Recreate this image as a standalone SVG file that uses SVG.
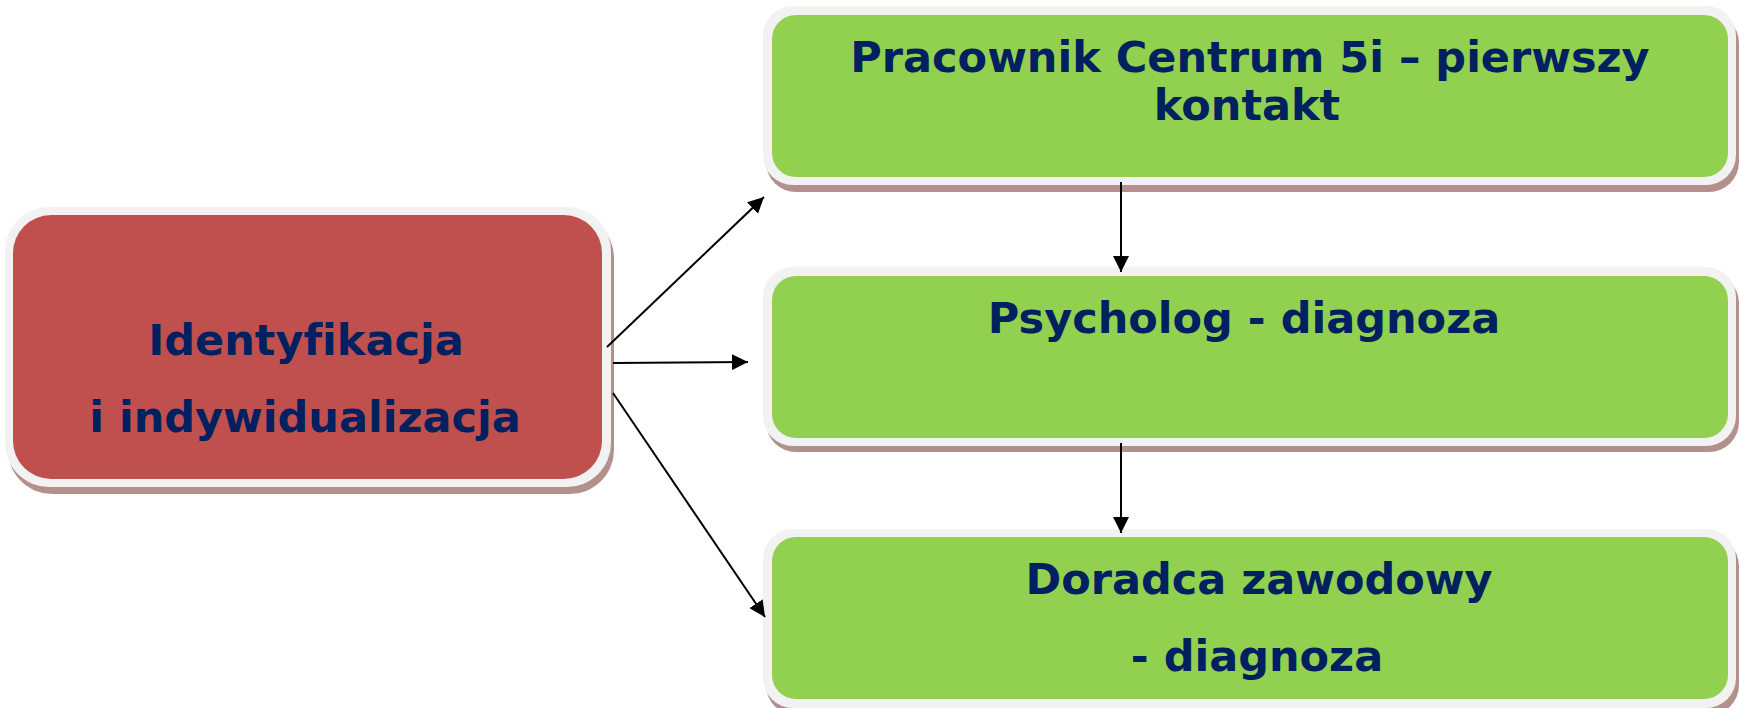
<svg xmlns="http://www.w3.org/2000/svg" width="1739" height="708" viewBox="0 0 1739 708">
<defs>
<style>
.shadow{fill:#b3908c}
.frame{fill:#f2f2f2}
.red{fill:#c0504d}
.green{fill:#92d050}
.t{font-family:"DejaVu Sans","Verdana",sans-serif;font-weight:bold;font-size:43px;fill:#002060;text-anchor:middle;font-variant-ligatures:none}
.c{stroke:#000;stroke-width:2;fill:none;marker-end:url(#ah)}
</style>
<marker id="ah" viewBox="0 0 16 16" refX="16" refY="8" markerWidth="16" markerHeight="16" markerUnits="userSpaceOnUse" orient="auto">
<path d="M0,0 L16,8 L0,16 z" fill="#000"/>
</marker>
</defs>
<rect width="1739" height="708" fill="#fff"/>
<g id="node-identyfikacja">
<rect class="shadow" x="8" y="214" width="606" height="280" rx="44"/>
<rect class="frame" x="5" y="207" width="606" height="280" rx="44"/>
<rect class="red" x="13" y="215" width="589" height="264" rx="38"/>
<text class="t" x="306" y="355">Identyfikacja</text>
<text class="t" x="305" y="432">i indywidualizacja</text>
</g>
<g id="node-pracownik">
<rect class="shadow" x="766" y="13" width="973" height="179" rx="30"/>
<rect class="frame" x="763" y="6" width="973" height="179" rx="30"/>
<rect class="green" x="772" y="15" width="956" height="162" rx="24"/>
<text class="t" x="1250" y="72">Pracownik Centrum 5i – pierwszy</text>
<text class="t" x="1247" y="120">kontakt</text>
</g>
<g id="node-psycholog">
<rect class="shadow" x="766" y="273" width="973" height="179" rx="30"/>
<rect class="frame" x="763" y="267" width="973" height="179" rx="30"/>
<rect class="green" x="772" y="276" width="956" height="162" rx="24"/>
<text class="t" x="1244" y="333">Psycholog - diagnoza</text>
</g>
<g id="node-doradca">
<rect class="shadow" x="766" y="536" width="973" height="179" rx="30"/>
<rect class="frame" x="763" y="529" width="973" height="179" rx="30"/>
<rect class="green" x="772" y="537" width="956" height="162" rx="24"/>
<text class="t" x="1259" y="594">Doradca zawodowy</text>
<text class="t" x="1257" y="671">- diagnoza</text>
</g>
<g id="connectors">
<line class="c" x1="607" y1="347" x2="764" y2="197"/>
<line class="c" x1="613" y1="363" x2="748" y2="362"/>
<line class="c" x1="613" y1="393" x2="765" y2="617"/>
<line class="c" x1="1121" y1="182" x2="1121" y2="272"/>
<line class="c" x1="1121" y1="443" x2="1121" y2="533"/>
</g>
</svg>
